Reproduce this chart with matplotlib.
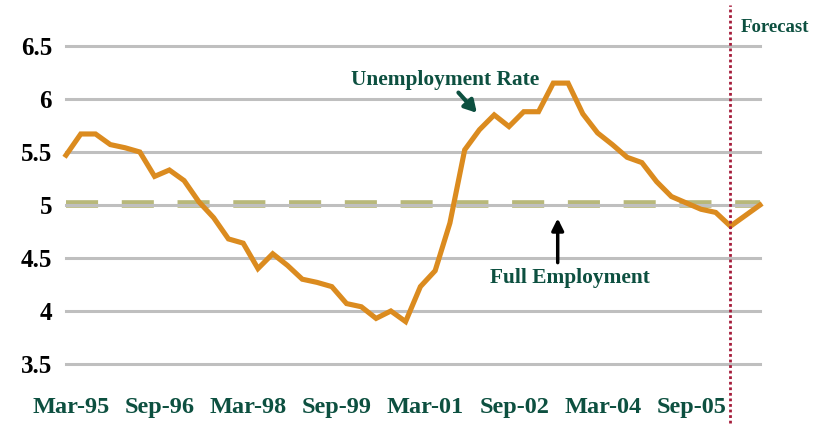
import numpy as np
import matplotlib
matplotlib.use("Agg")
import matplotlib.pyplot as plt

# quarterly unemployment rate, Mar-95 .. Dec-06
unemp = [5.47, 5.67, 5.67, 5.57, 5.54, 5.50, 5.27, 5.33, 5.23, 5.03,
         4.88, 4.68, 4.64, 4.40, 4.54, 4.43, 4.30, 4.27, 4.23, 4.07,
         4.04, 3.93, 4.00, 3.90, 4.23, 4.38, 4.83, 5.52, 5.71, 5.85,
         5.74, 5.88, 5.88, 6.15, 6.15, 5.86, 5.68, 5.57, 5.45, 5.40,
         5.22, 5.08, 5.02, 4.96, 4.93, 4.80, 4.90, 5.00]
full_emp = 5.0
tick_labels = ["Mar-95", "Sep-96", "Mar-98", "Sep-99",
               "Mar-01", "Sep-02", "Mar-04", "Sep-05"]
y_ticks = [3.5, 4, 4.5, 5, 5.5, 6, 6.5]
forecast_idx = 45

green = "#0d5040"
serif = ["Liberation Serif", "DejaVu Serif"]

fig = plt.figure(figsize=(8.2, 4.25), dpi=100)
ax = fig.add_axes([66/820, 61/425, 694/820, 318/425])

x = np.arange(len(unemp))

for yv in y_ticks:
    ax.axhline(yv, color="#bfbfbf", lw=2.2, zorder=2, clip_on=False)

ax.plot([x[0], x[-1]], [full_emp + 0.01, full_emp + 0.01],
        color="#b8b87a", lw=5.5, dashes=(4.2, 3.1),
        solid_capstyle="butt", dash_capstyle="butt",
        zorder=1, clip_on=False)

ax.plot(x, unemp, color="#db8b1f", lw=3.7, zorder=3, clip_on=False,
        solid_joinstyle="miter")

ax.axvline(forecast_idx, ymin=-0.186, ymax=1.129, color="#a51c3a",
           lw=2.0, ls=(0, (1, 1)), zorder=4, clip_on=False)

ax.set_xlim(0, len(unemp) - 1)
ax.set_ylim(3.5, 6.5)
# labels sit a few pixels right of their quarter
ax.set_xticks(x[::6] + 0.35)
ax.set_xticklabels(tick_labels, fontfamily=serif, fontweight="bold",
                   fontsize=17.5, color=green)
ax.set_yticks(y_ticks)
ax.set_yticklabels(["3.5", "4", "4.5", "5", "5.5", "6", "6.5"],
                   fontfamily=serif, fontweight="bold", fontsize=18)
ax.tick_params(length=0)
ax.tick_params(axis="x", pad=24)
ax.tick_params(axis="y", pad=10)
for s in ax.spines.values():
    s.set_visible(False)

ax.text(25.7, 6.18, "Unemployment Rate", fontfamily=serif,
        fontweight="bold", fontsize=15.4, color=green,
        ha="center", va="center")
ax.annotate("", xy=(27.95, 5.85), xytext=(26.45, 6.08),
            arrowprops=dict(arrowstyle="-|>,head_length=0.7,head_width=0.4",
                            color=green, lw=3))

ax.text(34.1, 4.31, "Full Employment", fontfamily=serif,
        fontweight="bold", fontsize=15.4, color=green,
        ha="center", va="center")
ax.annotate("", xy=(33.3, 4.9), xytext=(33.3, 4.43),
            arrowprops=dict(arrowstyle="-|>,head_length=0.7,head_width=0.35",
                            color="black", lw=2.5))

ax.text(45.7, 6.67, "Forecast", fontfamily=serif, fontweight="bold",
        fontsize=13.5, color=green, ha="left", va="center", clip_on=False)

fig.savefig("out.png", dpi=100)
